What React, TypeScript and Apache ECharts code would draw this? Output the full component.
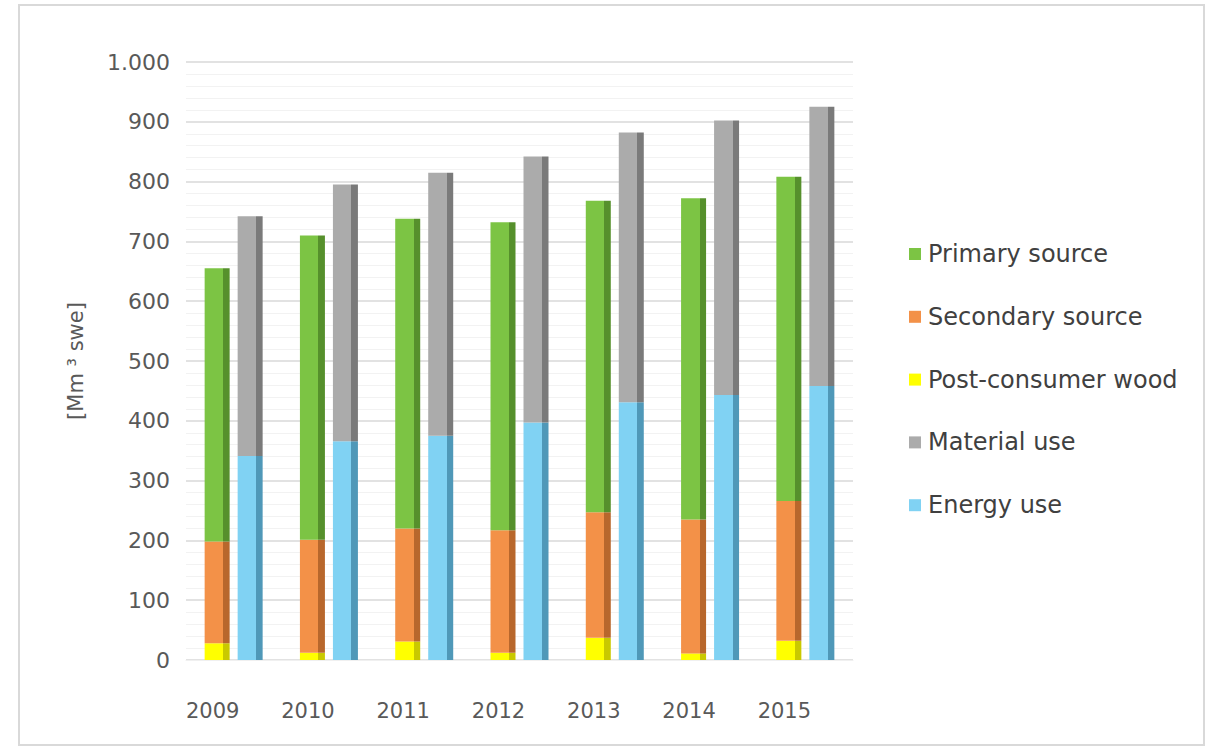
import React, { useEffect, useRef } from "react";
import * as echarts from "echarts";

const years = ["2009", "2010", "2011", "2012", "2013", "2014", "2015"];
const postConsumerWood = [28, 12, 31, 12, 37, 11, 32];
const secondarySource = [170, 189, 189, 205, 210, 224, 234];
const primarySource = [457, 509, 518, 515, 521, 537, 542];
const energyUse = [341, 366, 375, 397, 431, 443, 458];
const materialUse = [401, 429, 440, 445, 451, 459, 467];
const yTicks = [0, 100, 200, 300, 400, 500, 600, 700, 800, 900, 1000];

const FONT = "DejaVu Sans";

function face(c: string, dark: string) {
  return new echarts.graphic.LinearGradient(0, 0, 1, 0, [
    { offset: 0, color: c },
    { offset: 0.74, color: c },
    { offset: 0.74, color: dark },
    { offset: 1, color: dark },
  ]);
}

export default function App() {
  const ref = useRef<HTMLDivElement>(null);
  useEffect(() => {
    if (!ref.current) return;
    const chart = echarts.init(ref.current, null, { renderer: "svg" });
    const mk = (name: string, data: number[], stack: string, c: string, dark: string) => ({
      name,
      type: "bar",
      stack,
      data,
      barWidth: 25,
      barGap: "32%",
      itemStyle: { color: face(c, dark) },
      emphasis: { disabled: true },
    });
    chart.setOption({
      animation: false,
      backgroundColor: "#ffffff",
      graphic: [
        {
          type: "rect",
          shape: { x: 19, y: 5, width: 1185, height: 740 },
          style: { fill: "none", stroke: "#d9d9d9", lineWidth: 2 },
          silent: true,
        },
      ],
      grid: { left: 186, right: 359, top: 62, bottom: 96 },
      legend: {
        orient: "vertical",
        left: 904,
        top: 237,
        itemGap: 38.8,
        itemWidth: 12,
        itemHeight: 12,
        icon: "rect",
        data: [
          { name: "Primary source", itemStyle: { color: "#7cc444" } },
          { name: "Secondary source", itemStyle: { color: "#f39148" } },
          { name: "Post-consumer wood", itemStyle: { color: "#ffff00" } },
          { name: "Material use", itemStyle: { color: "#ababab" } },
          { name: "Energy use", itemStyle: { color: "#80d2f3" } },
        ],
        textStyle: { fontFamily: FONT, fontSize: 24, color: "#404040", padding: [0, 0, 0, 2] },
      },
      xAxis: {
        type: "category",
        data: years,
        axisLine: { show: true, lineStyle: { color: "#f0f0f0", width: 1 } },
        axisTick: { show: false },
        axisLabel: {
          fontFamily: FONT,
          fontSize: 21,
          color: "#595959",
          margin: 40,
          padding: [0, 42, 0, 0],
        },
      },
      yAxis: {
        type: "value",
        min: yTicks[0],
        max: yTicks[yTicks.length - 1],
        interval: 100,
        name: "[Mm ³ swe]",
        nameLocation: "middle",
        nameGap: 100,
        nameRotate: 90,
        nameTextStyle: { fontFamily: FONT, fontSize: 21, color: "#595959" },
        axisLine: { show: false },
        axisTick: { show: false },
        axisLabel: {
          fontFamily: FONT,
          fontSize: 22,
          color: "#595959",
          margin: 16,
          formatter: (v: number) => (v >= 1000 ? v.toLocaleString("de-DE") : String(v)),
        },
        splitLine: { show: true, lineStyle: { color: "#d9d9d9", width: 1.5 } },
        minorTick: { show: false, splitNumber: 5 },
        minorSplitLine: { show: true, lineStyle: { color: "#f2f2f2", width: 1 } },
      },
      series: [
        mk("Post-consumer wood", postConsumerWood, "supply", "#ffff00", "#c9c900"),
        mk("Secondary source", secondarySource, "supply", "#f39148", "#b8672c"),
        mk("Primary source", primarySource, "supply", "#7cc444", "#56902c"),
        mk("Energy use", energyUse, "use", "#80d2f3", "#4f98b8"),
        mk("Material use", materialUse, "use", "#ababab", "#7a7a7a"),
      ],
    });
    return () => chart.dispose();
  }, []);
  return (
    <div
      ref={ref}
      style={{ position: "absolute", left: 0, top: 0, width: 1212, height: 756 }}
    />
  );
}
